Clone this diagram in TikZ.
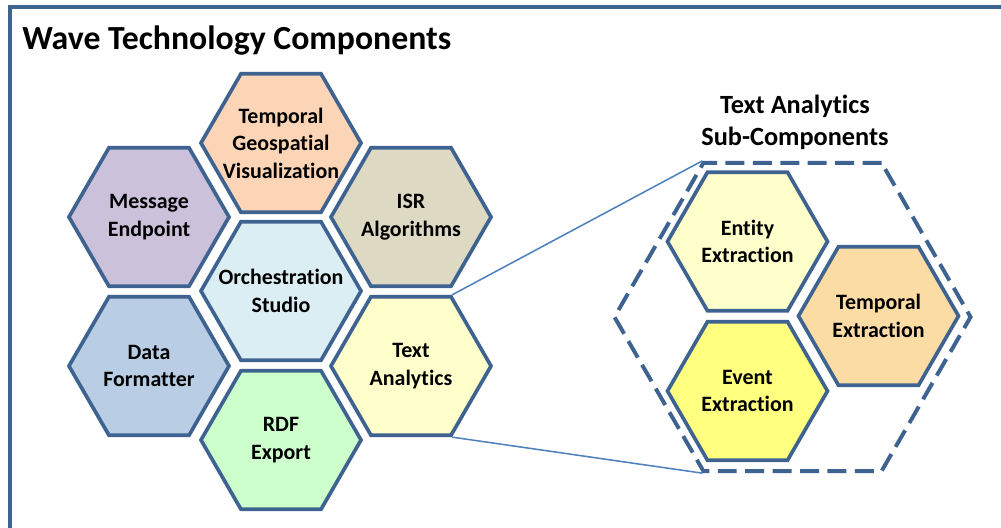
\documentclass[tikz,border=0pt]{standalone}
\usepackage{fontspec}
\setmainfont{Carlito}[Ligatures=NoCommon]
\usepackage{xcolor}
\usepackage{tikz}
\usetikzlibrary{shapes.geometric,positioning}

\definecolor{hexline}{HTML}{3F6390}
\definecolor{linkblue}{HTML}{4F81BD}
\definecolor{peach}{HTML}{FBD5B5}
\definecolor{lavender}{HTML}{CCC1DA}
\definecolor{khaki}{HTML}{DDD9C3}
\definecolor{paleblue}{HTML}{DBEEF4}
\definecolor{steel}{HTML}{B9CDE5}
\definecolor{paleyellow}{HTML}{FFFFCC}
\definecolor{palegreen}{HTML}{CCFFCC}
\definecolor{apricot}{HTML}{FCDCA5}
\definecolor{lemon}{HTML}{FFFF80}

\tikzset{
  hexa/.style={regular polygon, regular polygon sides=6, minimum size=4cm,
    inner sep=-10pt, draw=hexline, line width=2.6pt, align=center,
    font=\fontsize{15.6}{19.6}\selectfont\bfseries},
  subhex/.style={regular polygon, regular polygon sides=6, minimum size=8.9cm,
    inner sep=0pt, draw=hexline, line width=2.8pt, dash pattern=on 13.5pt off 6pt},
  zoomline/.style={draw=linkblue, line width=1.1pt},
}

\begin{document}
\begin{tikzpicture}[x=0.025cm,y=-0.025cm]
    \useasboundingbox (0,0) rectangle (1001,527);
    \clip (0,0) rectangle (1001,527);
    \draw[hexline, line width=2.8pt] (10,7) rectangle (1030,560);
    \node[anchor=base west, inner sep=0pt, font=\fontsize{24}{28}\selectfont\bfseries] (title) at (22,49) {Wave Technology Components};

    % main components
    \node[hexa, fill=peach] (tgv) at (281,143) {Temporal\\Geospatial\\Visualization};
    \node[hexa, fill=lavender] (msg) at (149,217) {Message\\Endpoint};
    \node[hexa, fill=khaki] (isr) at (411,217) {ISR\\Algorithms};
    \node[hexa, fill=paleblue] (orch) at (281,291) {Orchestration\\Studio};
    \node[hexa, fill=steel] (fmt) at (149,366) {Data\\Formatter};
    \node[hexa, fill=paleyellow] (ta) at (411,366) {Text\\Analytics};
    \node[hexa, fill=palegreen] (rdf) at (281,440) {RDF\\Export};

    % text analytics sub-components
    \node[align=center, font=\fontsize{18.7}{22.8}\selectfont\bfseries] (subtitle) at (795,122.5) {Text Analytics\\Sub-Components};
    \node[subhex] (sub) at (792.5,317) {};
    \node[hexa, fill=paleyellow] (ent) at (747.5,241.5) {Entity\\Extraction};
    \node[hexa, fill=apricot] (tmp) at (878.5,316) {Temporal\\Extraction};
    \node[hexa, fill=lemon] (evt) at (747.5,391) {Event\\Extraction};

    \draw[zoomline] (ta.60) -- (sub.120);
    \draw[zoomline] (ta.-60) -- (sub.-120);
\end{tikzpicture}
\end{document}
